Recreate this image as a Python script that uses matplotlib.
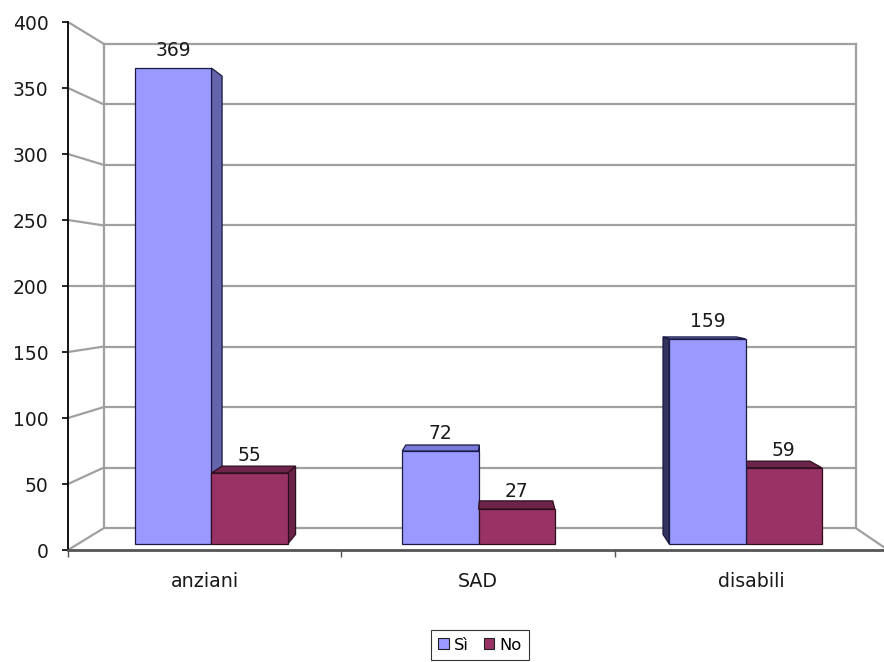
import matplotlib
matplotlib.use("Agg")
import matplotlib.pyplot as plt
from matplotlib.patches import Polygon, Patch

# ---- data ----
categories = ["anziani", "SAD", "disabili"]
series_names = ["Sì", "No"]
si_values = [369, 72, 159]
no_values = [55, 27, 59]
y_ticks = [0, 50, 100, 150, 200, 250, 300, 350, 400]

# ---- styling ----
FRONT = {"Sì": "#9999FF", "No": "#993366"}
SIDE_R = {"Sì": "#6464AC", "No": "#6A2347"}
SIDE_L = {"Sì": "#33335F", "No": "#4A1830"}
TOP = {"Sì": "#7A7AD8", "No": "#6E2448"}
EDGE = {"Sì": "#1A1A44", "No": "#2E0E1E"}
GRID = "#A0A0A0"

plt.rcParams["font.family"] = ["DejaVu Sans"]

# perspective: everything shrinks toward a vanishing point as depth grows
VPX, VPY = 1.58, 200.0
WALL_S = 0.9167        # back wall / floor back edge
BAR_FRONT_S = 0.977    # front face of the columns
BAR_BACK_S = 0.941     # back face of the columns
GAP = 1.5              # gap width relative to one column
BAR_W = 1.0 / (2 + GAP)


def proj(x, y, s):
    return VPX + (x - VPX) * s, VPY + (y - VPY) * s


fig = plt.figure(figsize=(8.84, 6.62), dpi=100)
ax = fig.add_axes([68 / 884, (662 - 550) / 662, 820 / 884, 528 / 662])
ax.set_xlim(0, 3)
ax.set_ylim(0, 400)

# ---- walls and floor ----
wall_kw = dict(color=GRID, lw=1.6, zorder=1, solid_capstyle="projecting")
for v in y_ticks:
    x0, y0 = proj(0, v, WALL_S)
    x1, y1 = proj(3, v, WALL_S)
    ax.plot([x0, x1], [y0, y1], **wall_kw)          # back-wall gridline
    ax.plot([0, x0], [v, y0], **wall_kw)            # side-wall line
for xe in (0, 3):
    xa, ya = proj(xe, 0, WALL_S)
    xb, yb = proj(xe, 400, WALL_S)
    ax.plot([xa, xb], [ya, yb], **wall_kw)
xr, yr = proj(3, 0, WALL_S)
ax.plot([3, xr], [0, yr], clip_on=False, **wall_kw)

# ---- columns ----
bars = []
for i, cat in enumerate(categories):
    centre = i + 0.5
    bars.append(("Sì", centre - BAR_W, si_values[i]))
    bars.append(("No", centre, no_values[i]))

# paint far-from-vanishing-point columns first so neighbours overlap correctly
bars.sort(key=lambda b: -abs(b[1] + BAR_W / 2 - VPX))

for name, x0, v in bars:
    x1 = x0 + BAR_W
    ec = EDGE[name]
    poly_kw = dict(edgecolor=ec, lw=0.9, joinstyle="miter", zorder=3)
    # side face toward the vanishing point
    if x1 < VPX:
        xs = x1
        col = SIDE_R[name]
    elif x0 > VPX:
        xs = x0
        col = SIDE_L[name]
    else:
        xs = None
    if xs is not None:
        pts = [proj(xs, 0, BAR_FRONT_S), proj(xs, v, BAR_FRONT_S),
               proj(xs, v, BAR_BACK_S), proj(xs, 0, BAR_BACK_S)]
        ax.add_patch(Polygon(pts, closed=True, facecolor=col, **poly_kw))
    # top face, visible when below eye level
    if v < VPY:
        pts = [proj(x0, v, BAR_FRONT_S), proj(x1, v, BAR_FRONT_S),
               proj(x1, v, BAR_BACK_S), proj(x0, v, BAR_BACK_S)]
        ax.add_patch(Polygon(pts, closed=True, facecolor=TOP[name], **poly_kw))
    # front face
    fx, fy = proj(x0, 0, BAR_FRONT_S)
    ax.bar(fx, v * BAR_FRONT_S, width=BAR_W * BAR_FRONT_S, bottom=fy,
           align="edge", color=FRONT[name], edgecolor=ec, lw=0.9, zorder=3)
    # value label
    tx, ty = proj(x0 + BAR_W / 2, v, BAR_FRONT_S)
    ax.annotate(f"{v}", (tx, ty), xytext=(0, 8.6), textcoords="offset points",
                ha="center", va="baseline", fontsize=13.5, color="#1A1A1A",
                zorder=5)

# ---- axes ----
for side in ("top", "right"):
    ax.spines[side].set_visible(False)
ax.spines["left"].set_color("black")
ax.spines["left"].set_linewidth(1.3)
ax.spines["bottom"].set_color("#555555")
ax.spines["bottom"].set_linewidth(2.0)
ax.spines["left"].set_zorder(4)
ax.spines["bottom"].set_zorder(4)

ax.set_yticks(y_ticks)
ax.set_yticklabels([str(t) for t in y_ticks])
ax.tick_params(axis="y", direction="out", length=4.5, width=1.2, color="black",
               pad=9.5, labelsize=13.5, labelcolor="#1A1A1A")

ax.set_xticks([0, 1, 2, 3])
ax.set_xticklabels([])
ax.set_xticks([i + 0.5 for i in range(len(categories))], minor=True)
ax.set_xticklabels(categories, minor=True)
ax.tick_params(axis="x", which="major", direction="out", length=5,
               width=1.0, color="#555555")
ax.tick_params(axis="x", which="minor", length=0, pad=16, labelsize=13.7,
               labelcolor="#1A1A1A")
ax.patch.set_alpha(0)

# ---- legend ----
handles = [Patch(facecolor=FRONT[n], edgecolor="#222222", lw=0.8)
           for n in series_names]
leg = fig.legend(handles, series_names, loc="lower center", ncol=2,
                 bbox_to_anchor=(480 / 884, 2 / 662), fontsize=11.8,
                 frameon=True, fancybox=False, handlelength=0.65,
                 handleheight=0.65, handletextpad=0.3, columnspacing=0.9,
                 borderpad=0.45, borderaxespad=0)
leg.get_frame().set_edgecolor("black")
leg.get_frame().set_linewidth(0.8)

fig.savefig("out.png", dpi=100, facecolor="white")
